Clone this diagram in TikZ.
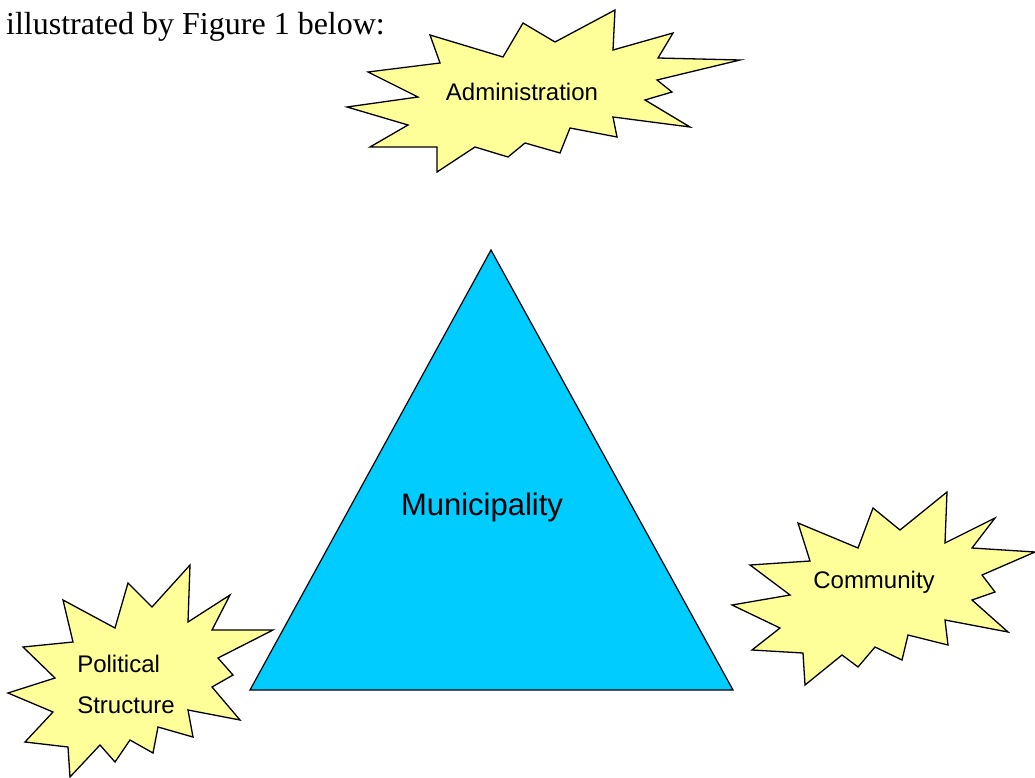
\documentclass[tikz,border=0pt]{standalone}
\usepackage{fontspec}
\setmainfont{Liberation Serif}
\setsansfont{Liberation Sans}
\usepackage{tikz}
\usepackage{xcolor}
\usetikzlibrary{positioning}

\definecolor{burstyellow}{HTML}{FFFF99}
\definecolor{municyan}{HTML}{00CCFF}

\begin{document}
\begin{tikzpicture}[x=1pt,y=-1pt,
  burst/.style={
   draw,
   fill=burstyellow,
   line width=1.3pt,
   line join=miter
  },
  tri/.style={
    draw,
    fill=municyan,
    line width=1.2pt
  },
  lbl/.style={
    font=\sffamily\fontsize{24}{41}\selectfont,
    align=center,
    inner sep=0pt
  }]
  \useasboundingbox (0,0) rectangle (1035,778);

	\node[anchor=base west,inner sep=0pt,font=\fontsize{32}{36}\selectfont] 
		  (intro) at (6,35) {illustrated by Figure 1 below:};

	% top burst
	\draw[burst] (430,35) -- (440,63) -- (368,72) -- (418,97) -- (347,107)
	  -- (408,125) -- (370,147) -- (437,147) -- (437,172) -- (475,147)
	  -- (508,157) -- (525,143) -- (560,153) -- (570,128) -- (617,137)
	  -- (613,117) -- (690,127) -- (645,100) -- (672,92) -- (657,80)
	  -- (740,60) -- (658,58) -- (673,33) -- (613,50) -- (615,10)
	  -- (555,42) -- (523,23) -- (503,57) -- cycle;
	\node[lbl] (admin) at (522,92) {Administration};

	% triangle
	\draw[tri] (491,250) -- (733,690) -- (250,690) -- cycle;
	\node[lbl,font=\sffamily\fontsize{31}{36}\selectfont] 
		  (muni) at (482,507) {Municipality};

	% left burst
	\draw[burst] (63,600) -- (73,642) -- (23,647) -- (55,678) -- (8,693)
	  -- (53,712) -- (25,742) -- (68,747) -- (70,777) -- (100,745)
	  -- (115,762) -- (130,740) -- (153,753) -- (158,727) -- (193,737)
	  -- (188,710) -- (240,720) -- (212,687) -- (233,675) -- (218,658)
	  -- (273,630) -- (212,630) -- (230,595) -- (188,622) -- (190,565)
	  -- (152,607) -- (128,583) -- (115,628) -- cycle;
	\node[lbl,align=left] (polit) at (126,684) {Political\\Structure};

	% right burst
	\draw[burst] (798,523) -- (810,561) -- (750,565) -- (790,595) -- (732,605)
	  -- (780,628) -- (752,650) -- (803,653) -- (805,685) -- (842,655)
	  -- (858,667) -- (875,647) -- (902,660) -- (908,635) -- (948,645)
	  -- (945,620) -- (1008,632) -- (972,600) -- (995,592) -- (982,575)
	  -- (1035,552) -- (972,548) -- (995,518) -- (945,543) -- (947,492)
	  -- (900,530) -- (873,508) -- (858,548) -- cycle;
	\node[lbl] (commu) at (874,582) {Community};

\end{tikzpicture}
\end{document}
